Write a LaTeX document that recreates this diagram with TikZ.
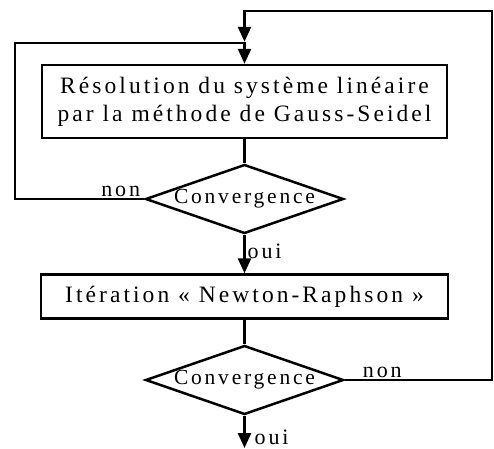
\documentclass[tikz,border=0pt]{standalone}
\usepackage{fontspec}
\setmainfont{Liberation Serif}[LetterSpace=13]
\usetikzlibrary{arrows.meta, positioning, shapes.geometric, calc}

\begin{document}
\begin{tikzpicture}[
    x=1pt, y=1pt,
    every node/.style={font=\fontsize{23.5}{28}\selectfont},
    procbox/.style={draw, line width=2.5pt, align=center, inner sep=0pt},
    testdiamond/.style={draw, diamond, aspect=2.87, line width=2.5pt, inner sep=0pt,
                        minimum width=198pt, minimum height=69pt,
                        font=\fontsize{21.5}{26}\selectfont},
    flow/.style={line width=2.5pt},
    flowarrow/.style={flow, -{Triangle[length=15pt, width=13pt]}},
    lbl/.style={inner sep=0pt, font=\fontsize{22}{26}\selectfont},
]

\useasboundingbox (0,0) rectangle (494,-448);

% ---------------------------------------------------------------- blocks
\node[procbox, minimum width=405pt, minimum height=73pt] (gauss) at (244.5,-101.5)
    {R\'esolution du syst\`eme lin\'eaire\\par la m\'ethode de Gauss-Seidel};
\node[testdiamond] (conv1) at (244.5,-199) {Convergence};

\node[procbox, minimum width=407pt, minimum height=44pt] (newton) at (244.5,-296.5)
    {It\'eration «~Newton-Raphson~»};
\node[testdiamond] (conv2) at (244.5,-380) {Convergence};

% ---------------------------------------------------------------- loop corners
\coordinate (gsloop) at (15,-43);
\coordinate (nrloop) at (492,-11);
\coordinate (join) at ($(gauss.north)+(0,22)$);
\coordinate (exit) at (244.5,-448);

% ---------------------------------------------------------------- connectors
\draw[flow] (gauss.south) -- (conv1.north);
\draw[flowarrow] (conv1.south) -- (newton.north);
\draw[flow] (newton.south) -- (conv2.north);
\draw[flowarrow] (conv2.south) -- (exit);

\draw[flowarrow] (conv1.west) -| (gsloop) -| (gauss.north);   % Gauss-Seidel loop
\draw[flowarrow] (conv2.east) -| (nrloop) -| (join);          % Newton loop

% ---------------------------------------------------------------- labels
\node[lbl, anchor=south east] (non1) at ($(conv1.west)+(-4,2)$) {non};
\node[lbl, anchor=north west] (oui1) at ($(conv1.south)+(3,-9)$) {oui};
\node[lbl, anchor=south west] (non2) at ($(conv2.east)+(18,2)$) {non};
\node[lbl, anchor=north west] (oui2) at ($(conv2.south)+(10,-14)$) {oui};

\end{tikzpicture}
\end{document}
